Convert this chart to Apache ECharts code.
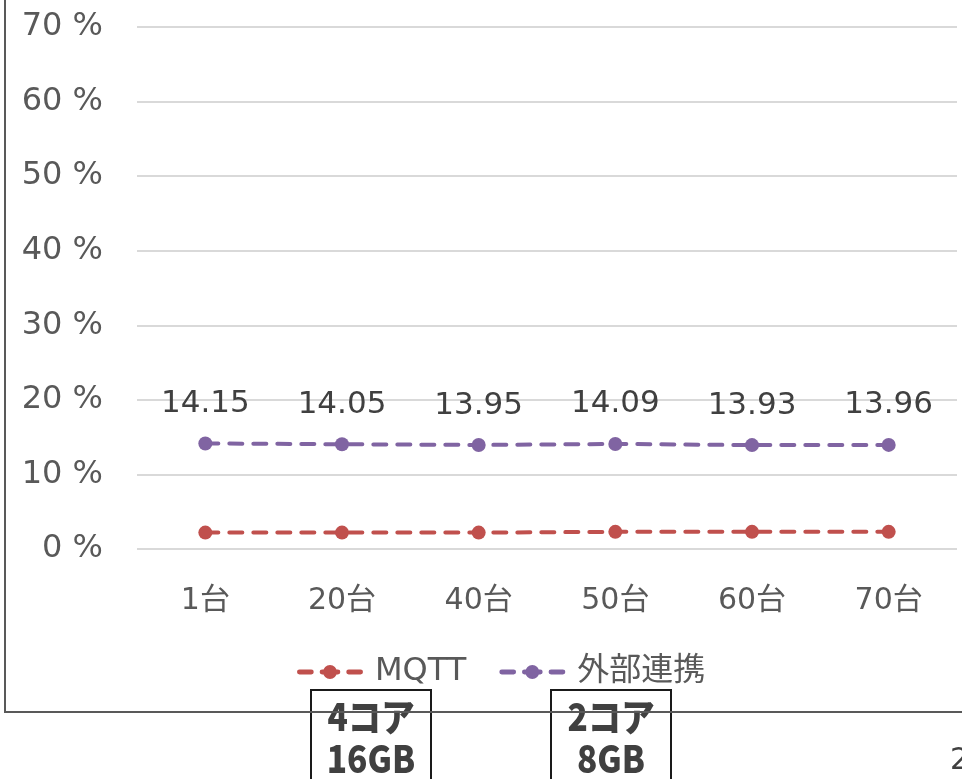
<!DOCTYPE html>
<html>
<head>
<meta charset="utf-8">
<script src="https://cdn.jsdelivr.net/npm/echarts@6/dist/echarts.min.js"></script>
<style>
  html, body { margin: 0; padding: 0; background: #fff; }
  #chart { width: 962px; height: 779px; }
</style>
</head>
<body>
<div id="chart"></div>
<script>
// Device counts on the x axis
const categories = ['1台', '20台', '40台', '50台', '60台', '70台'];
// CPU usage (%) per series
const mqttValues = [2.2, 2.2, 2.2, 2.3, 2.3, 2.3];
const externalValues = [14.15, 14.05, 13.95, 14.09, 13.93, 13.96];
const seriesNames = ['MQTT', '外部連携'];
// Spec notes shown under the chart frame
const specNotes = ['4コア\n16GB', '2コア\n8GB'];

const latin = 'DejaVu Sans, Noto Sans CJK JP, sans-serif';
const dashed = { width: 4, type: [13, 11], cap: 'round' };
// legend glyph: dash, dash with dot, dash (all sub-paths wound clockwise)
const legendIcon = 'path://M2,4.5h12a2.5,2.5 0 0,1 0,5h-12a2.5,2.5 0 0,1 0,-5Z' +
  'M25,4.5h16a2.5,2.5 0 0,1 0,5h-16a2.5,2.5 0 0,1 0,-5Z' +
  'M52,4.5h12a2.5,2.5 0 0,1 0,5h-12a2.5,2.5 0 0,1 0,-5Z' +
  'M33,0a7,7 0 1,1 0,14a7,7 0 1,1 0,-14Z';

const chart = echarts.init(document.getElementById('chart'), null, { renderer: 'canvas' });

chart.setOption({
  animation: false,
  backgroundColor: '#ffffff',
  grid: { left: 137, right: 5, top: 27, bottom: 230 },
  legend: {
    top: 651,
    left: 292,
    itemWidth: 66,
    itemHeight: 14,
    itemGap: 33,
    icon: legendIcon,
    textStyle: { color: '#595959', fontSize: 32, fontFamily: latin, padding: [0, 0, 0, 7] },
    data: seriesNames
  },
  xAxis: {
    type: 'category',
    data: categories,
    boundaryGap: true,
    axisLine: { show: false },
    axisTick: { show: false },
    axisLabel: { color: '#595959', fontSize: 30, fontFamily: latin, margin: 37 }
  },
  yAxis: {
    type: 'value',
    min: 0,
    max: 70,
    interval: 10,
    axisLine: { show: false },
    axisTick: { show: false },
    axisLabel: { color: '#595959', fontSize: 32, fontFamily: latin, margin: 34, formatter: '{value} %' },
    splitLine: { lineStyle: { color: '#d9d9d9', width: 2 } }
  },
  series: [
    {
      name: seriesNames[0],
      type: 'line',
      data: mqttValues,
      symbol: 'circle',
      symbolSize: 14,
      itemStyle: { color: '#C0504D' },
      lineStyle: Object.assign({ color: '#C0504D' }, dashed)
    },
    {
      name: seriesNames[1],
      type: 'line',
      data: externalValues,
      symbol: 'circle',
      symbolSize: 14,
      itemStyle: { color: '#8064A2' },
      lineStyle: Object.assign({ color: '#8064A2' }, dashed),
      label: {
        show: true,
        position: 'top',
        distance: 17,
        color: '#404040',
        fontSize: 31,
        fontFamily: latin,
        formatter: p => p.value.toFixed(2)
      }
    }
  ],
  graphic: [
    // chart frame (left and bottom edges visible)
    {
      type: 'rect', z: 1, silent: true,
      shape: { x: 5, y: -10, width: 1000, height: 722 },
      style: { fill: null, stroke: '#595959', lineWidth: 2 }
    },
    // spec note boxes
    {
      type: 'group', x: 311, y: 690, z: 10,
      children: [
        { type: 'rect', shape: { x: 0, y: 0, width: 120, height: 110 }, style: { fill: '#fff', stroke: '#1a1a1a', lineWidth: 2 } },
        { type: 'text', x: 60, y: 6, scaleX: 0.88, style: { text: specNotes[0], fill: '#404040', font: '900 38px "Noto Sans CJK JP"', textAlign: 'center', textVerticalAlign: 'top', lineHeight: 42 } }
      ]
    },
    {
      type: 'group', x: 551, y: 690, z: 10,
      children: [
        { type: 'rect', shape: { x: 0, y: 0, width: 120, height: 110 }, style: { fill: '#fff', stroke: '#1a1a1a', lineWidth: 2 } },
        { type: 'text', x: 60, y: 6, scaleX: 0.88, style: { text: specNotes[1], fill: '#404040', font: '900 38px "Noto Sans CJK JP"', textAlign: 'center', textVerticalAlign: 'top', lineHeight: 42 } }
      ]
    },
    {
      type: 'text', x: 950, y: 746, z: 10,
      style: { text: '2', fill: '#404040', font: '30px "DejaVu Sans"' }
    }
  ]
});
</script>
</body>
</html>
